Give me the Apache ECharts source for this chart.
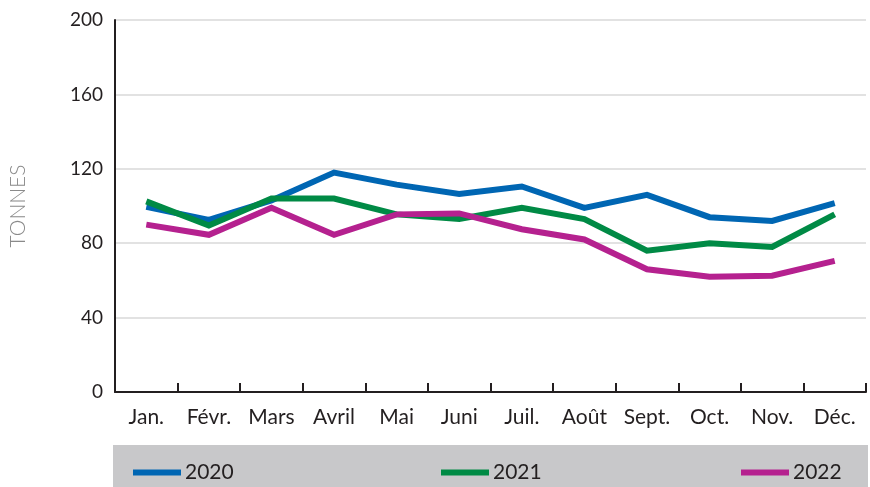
<!DOCTYPE html>
<html>
<head>
<meta charset="utf-8">
<script src="https://cdn.jsdelivr.net/npm/echarts@6/dist/echarts.min.js"></script>
<style>
  html, body { margin: 0; padding: 0; background: #fff; }
  #main { width: 870px; height: 487px; }
</style>
</head>
<body>
<div id="main"></div>
<script>
var months = ['Jan.', 'Févr.', 'Mars', 'Avril', 'Mai', 'Juni', 'Juil.', 'Août', 'Sept.', 'Oct.', 'Nov.', 'Déc.'];
var yearNames = ['2020', '2021', '2022'];
var values2020 = [99.5, 92.5, 103, 118, 111.5, 106.5, 110.5, 99, 106, 94, 92, 101.5];
var values2021 = [102.5, 89.5, 104, 104, 95.5, 93, 99, 93, 76, 80, 78, 95.5];
var values2022 = [90, 84.5, 99, 84.5, 95.5, 96, 87.5, 82, 66, 62, 62.5, 70.5];
var yTicks = [0, 40, 80, 120, 160, 200];

var colors = ['#0066b3', '#008a45', '#b5218f'];
var fontName = 'Lato, "Open Sans", sans-serif';

var myChart = echarts.init(document.getElementById('main'));//获取容器

function makeLegend(i, left) {
    return {
        data: [yearNames[i]],
        left: left,
        top: 457,
        icon: 'rect',
        itemWidth: 48,
        itemHeight: 6,
        itemGap: 0,
        textStyle: { fontFamily: fontName, fontSize: 21, color: '#231f20', padding: [0, 0, 0, -1] }
    };
}

function makeSeries(i, data) {
    return {
        name: yearNames[i],
        type: 'line',
        data: data,
        symbol: 'none',
        lineStyle: { width: 6, color: colors[i], cap: 'butt', join: 'miter' },
        itemStyle: { color: colors[i] }
    };
}

myChart.setOption({
    animation: false,
    grid: { left: 114, right: 4, top: 20, bottom: 95 },
    graphic: [{
        type: 'rect',
        shape: { x: 113, y: 445, width: 755, height: 42 },
        style: { fill: '#c8c8ca' },
        z: -1
    }],
    legend: [makeLegend(0, 128), makeLegend(1, 436), makeLegend(2, 736)],
    xAxis: {
        type: 'category',
        data: months,
        boundaryGap: true,
        axisLine: { lineStyle: { color: '#231f20', width: 2 } },
        axisTick: { show: true, inside: true, length: 9, lineStyle: { color: '#231f20', width: 2 } },
        axisLabel: { fontFamily: fontName, fontSize: 21, color: '#231f20', margin: 15 }
    },
    yAxis: {
        type: 'value',
        min: 0,
        max: 200,
        interval: 40,
        name: 'TONNES',
        nameLocation: 'middle',
        nameGap: 86,
        nameTextStyle: { fontFamily: fontName, fontSize: 21, fontWeight: 300, color: '#8a8a8a' },
        axisLine: { show: true, lineStyle: { color: '#231f20', width: 2 } },
        axisTick: { show: false },
        axisLabel: { fontFamily: fontName, fontSize: 19, color: '#231f20', margin: 12 },
        splitLine: { lineStyle: { color: '#d9d9d9', width: 1.5 } }
    },
    series: [
        makeSeries(0, values2020),
        makeSeries(1, values2021),
        makeSeries(2, values2022)
    ]
});
</script>
</body>
</html>
